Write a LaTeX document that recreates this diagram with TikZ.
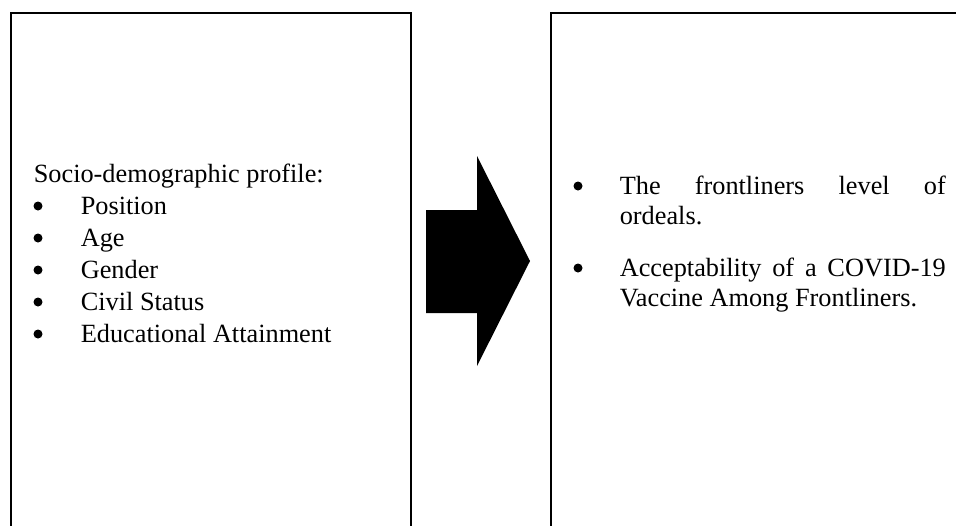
\documentclass[tikz,border=0pt]{standalone}
\usepackage{fontspec}
\setmainfont{Liberation Serif}
\newcommand{\semhifen}{\hyphenpenalty=10000 \exhyphenpenalty=10000 \tolerance=10000\relax}
\begin{document}
\begin{tikzpicture}[x=1pt,y=-1pt,line width=1.6pt]
  \tikzset{
    txt/.style={font=\fontsize{26.3pt}{32pt}\selectfont,anchor=base west,inner sep=0pt},
    bul/.style={circle,fill,inner sep=0pt,minimum size=9pt},
    item/.style={txt,text width=326pt,align=justify,
      font=\fontsize{26.3pt}{30pt}\selectfont\semhifen}
  }
  %moldura
  \clip (0,0) rectangle (956,525);
  \draw (11,13) rectangle (411,545);
  \draw (551,13) rectangle (970,545);

  %seta
  \coordinate (s1) at (426,210);
  \coordinate (s2) at (477,210);
  \coordinate (s3) at (477,156);
  \coordinate (ponta) at (530,261);
  \coordinate (s4) at (477,366);
  \coordinate (s5) at (477,313);
  \coordinate (s6) at (426,313);
  \fill (s1) -- (s2) -- (s3) -- (ponta) -- (s4) -- (s5) -- (s6) -- cycle;

  %perfil
  \node[txt] (perfil) at (33,182) {Socio-demographic profile:};
  \node[bul] (b1) at (38,206) {};
  \node[txt] (posicao) at (80,214) {Position};
  \node[bul] (b2) at (38,238) {};
  \node[txt] (idade) at (80,246) {Age};
  \node[bul] (b3) at (38,270) {};
  \node[txt] (genero) at (80,278) {Gender};
  \node[bul] (b4) at (38,302) {};
  \node[txt] (civil) at (80,310) {Civil Status};
  \node[bul] (b5) at (38,334) {};
  \node[txt] (educ) at (80,342) {Educational Attainment};

  %resultados
  \node[bul] (r1) at (578,186) {};
  \node[item] (nivel) at (619,194) {The frontliners level of\linebreak ordeals.};
  \node[bul] (r2) at (578,268) {};
  \node[item] (vacina) at (619,276) {Acceptability of a COVID-19 Vaccine Among Frontliners.};
\end{tikzpicture}
\end{document}
